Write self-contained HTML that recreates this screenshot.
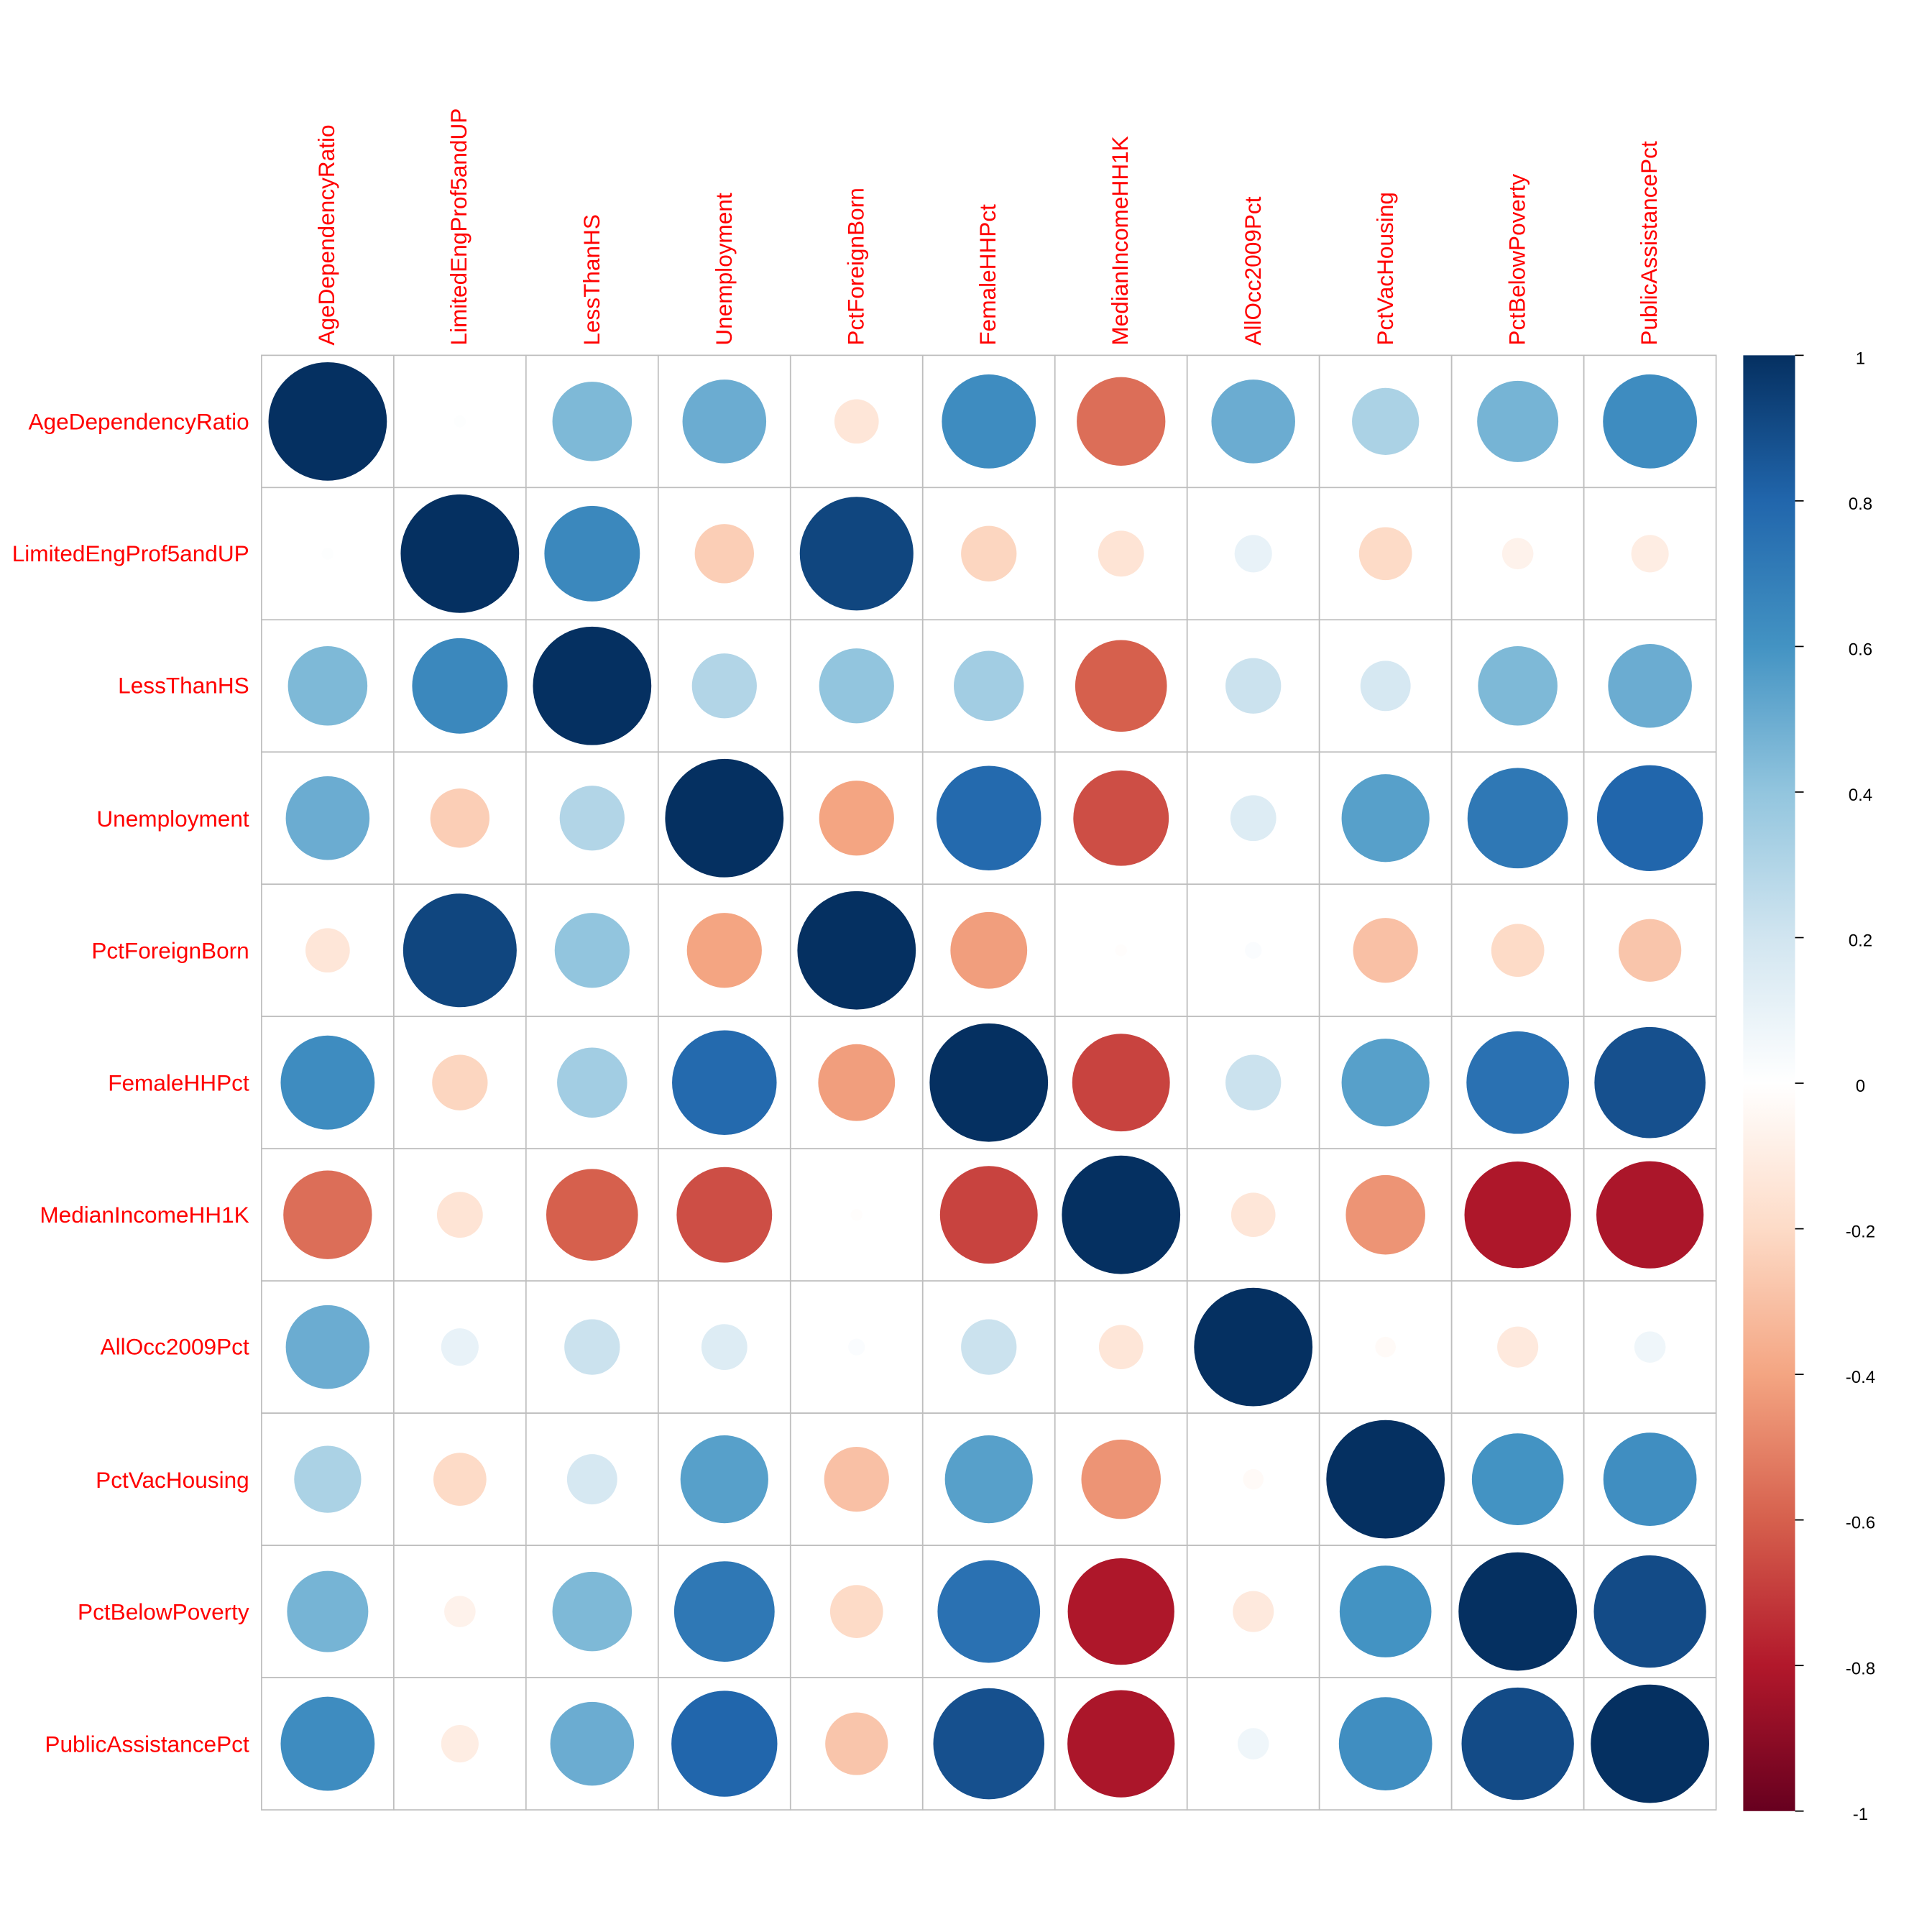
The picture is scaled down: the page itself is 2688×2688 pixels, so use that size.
<!DOCTYPE html>
<html><head><meta charset="utf-8"><style>html,body{margin:0;padding:0;background:#fff}svg{display:block}</style></head>
<body>
<svg id="s" width="2688" height="2688" viewBox="0 0 1566 1566" xmlns="http://www.w3.org/2000/svg" font-family="Liberation Sans, Arial, sans-serif">
<defs>
<linearGradient id="g" x1="0" y1="1" x2="0" y2="0">
<stop offset="0" stop-color="#67001F"/><stop offset="0.1" stop-color="#B2182B"/><stop offset="0.2" stop-color="#D6604D"/><stop offset="0.3" stop-color="#F4A582"/><stop offset="0.4" stop-color="#FDDBC7"/><stop offset="0.5" stop-color="#FFFFFF"/><stop offset="0.6" stop-color="#D1E5F0"/><stop offset="0.7" stop-color="#92C5DE"/><stop offset="0.8" stop-color="#4393C3"/><stop offset="0.9" stop-color="#2166AC"/><stop offset="1" stop-color="#053061"/>
</linearGradient>
</defs>
<g id="cells"></g>
<g fill="#FF0000" font-size="18.4" text-anchor="end">
<text x="202" y="348">AgeDependencyRatio</text>
<text x="202" y="455">LimitedEngProf5andUP</text>
<text x="202" y="562">LessThanHS</text>
<text x="202" y="670">Unemployment</text>
<text x="202" y="777">PctForeignBorn</text>
<text x="202" y="884">FemaleHHPct</text>
<text x="202" y="991">MedianIncomeHH1K</text>
<text x="202" y="1098">AllOcc2009Pct</text>
<text x="202" y="1206">PctVacHousing</text>
<text x="202" y="1313">PctBelowPoverty</text>
<text x="202" y="1420">PublicAssistancePct</text>
</g>
<g fill="#FF0000" font-size="18.4" text-anchor="start">
<text transform="translate(271,280) rotate(-90)">AgeDependencyRatio</text>
<text transform="translate(378,280) rotate(-90)">LimitedEngProf5andUP</text>
<text transform="translate(486,280) rotate(-90)">LessThanHS</text>
<text transform="translate(593,280) rotate(-90)">Unemployment</text>
<text transform="translate(700,280) rotate(-90)">PctForeignBorn</text>
<text transform="translate(807,280) rotate(-90)">FemaleHHPct</text>
<text transform="translate(914,280) rotate(-90)">MedianIncomeHH1K</text>
<text transform="translate(1022,280) rotate(-90)">AllOcc2009Pct</text>
<text transform="translate(1129,280) rotate(-90)">PctVacHousing</text>
<text transform="translate(1236,280) rotate(-90)">PctBelowPoverty</text>
<text transform="translate(1343,280) rotate(-90)">PublicAssistancePct</text>
</g>
<rect x="1413" y="288" width="42" height="1180" fill="url(#g)"/>
<g id="ticks" stroke="#000" stroke-width="1"></g>
<g font-size="14" text-anchor="middle" fill="#000">
<text x="1508" y="295">1</text>
<text x="1508" y="413">0.8</text>
<text x="1508" y="531">0.6</text>
<text x="1508" y="649">0.4</text>
<text x="1508" y="767">0.2</text>
<text x="1508" y="885">0</text>
<text x="1508" y="1003">-0.2</text>
<text x="1508" y="1121">-0.4</text>
<text x="1508" y="1239">-0.6</text>
<text x="1508" y="1357">-0.8</text>
<text x="1508" y="1475">-1</text>
</g>
</svg>
<script>
var M=[
[1,0.01,0.45,0.5,-0.14,0.63,-0.56,0.5,0.32,0.47,0.63],
[0.01,1,0.65,-0.25,0.92,-0.22,-0.15,0.1,-0.2,-0.07,-0.1],
[0.45,0.65,1,0.3,0.4,0.35,-0.6,0.22,0.18,0.45,0.5],
[0.5,-0.25,0.3,1,-0.4,0.78,-0.65,0.15,0.55,0.72,0.8],
[-0.14,0.92,0.4,-0.4,1,-0.42,-0.01,0.02,-0.3,-0.2,-0.28],
[0.63,-0.22,0.35,0.78,-0.42,1,-0.68,0.22,0.55,0.75,0.88],
[-0.56,-0.15,-0.6,-0.65,-0.01,-0.68,1,-0.14,-0.45,-0.81,-0.82],
[0.5,0.1,0.22,0.15,0.02,0.22,-0.14,1,-0.03,-0.12,0.07],
[0.32,-0.2,0.18,0.55,-0.3,0.55,-0.45,-0.03,1,0.6,0.62],
[0.47,-0.07,0.45,0.72,-0.2,0.75,-0.81,-0.12,0.6,1,0.9],
[0.63,-0.1,0.5,0.8,-0.28,0.88,-0.82,0.07,0.62,0.9,1]];
var P=["#67001F","#B2182B","#D6604D","#F4A582","#FDDBC7","#FFFFFF","#D1E5F0","#92C5DE","#4393C3","#2166AC","#053061"];
function h(c){return [parseInt(c.substr(1,2),16),parseInt(c.substr(3,2),16),parseInt(c.substr(5,2),16)];}
function col(r){var t=(r+1)/2*10;var i=Math.min(9,Math.floor(t));var f=t-i;var a=h(P[i]),b=h(P[i+1]);
return "rgb("+a.map(function(v,k){return Math.round(v+(b[k]-v)*f)}).join(",")+")";}
var x0=212,y0=288,W=1179,n=11,c=W/n,s="";
for(var i=0;i<n;i++)for(var j=0;j<n;j++){
s+='<rect x="'+(x0+j*c)+'" y="'+(y0+i*c)+'" width="'+c+'" height="'+c+'" fill="#fff" stroke="#BEBEBE" stroke-width="1"/>';}
for(var i=0;i<n;i++)for(var j=0;j<n;j++){var r=M[i][j];
s+='<circle cx="'+(x0+(j+0.5)*c)+'" cy="'+(y0+(i+0.5)*c)+'" r="'+(48*Math.sqrt(Math.abs(r)))+'" fill="'+col(r)+'"/>';}
document.getElementById("cells").innerHTML=s;
var t="";for(var k=0;k<=10;k++){var y=288+k*118;t+='<line x1="1455" y1="'+y+'" x2="1462" y2="'+y+'"/>';}
document.getElementById("ticks").innerHTML=t;
</script>
</body></html>
